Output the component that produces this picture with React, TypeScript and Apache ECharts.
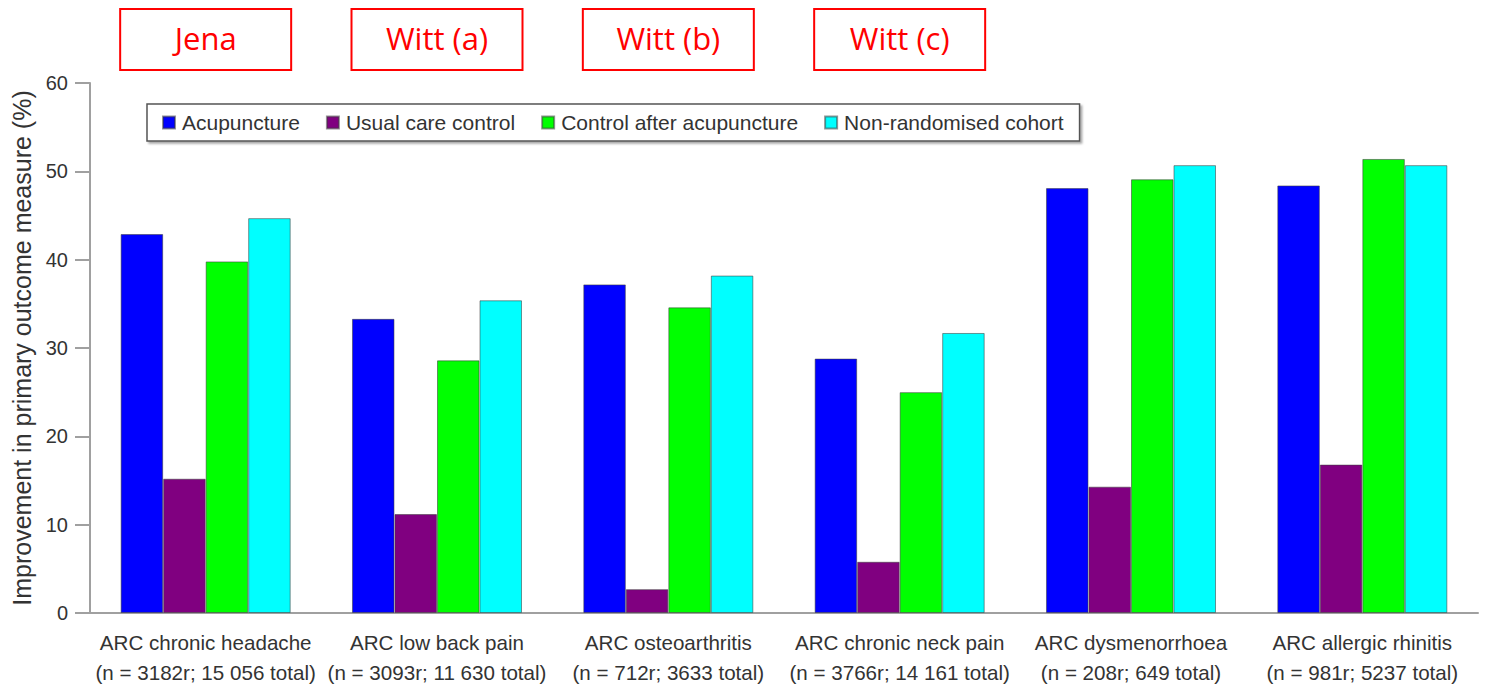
import React, { useEffect, useRef } from "react";
import * as echarts from "echarts";

const categories = [
  "ARC chronic headache\n(n = 3182r; 15 056 total)",
  "ARC low back pain\n(n = 3093r; 11 630 total)",
  "ARC osteoarthritis\n(n = 712r; 3633 total)",
  "ARC chronic neck pain\n(n = 3766r; 14 161 total)",
  "ARC dysmenorrhoea\n(n = 208r; 649 total)",
  "ARC allergic rhinitis\n(n = 981r; 5237 total)",
];

const acupuncture = [42.9, 33.3, 37.2, 28.8, 48.1, 48.4];
const usualCare = [15.2, 11.2, 2.7, 5.8, 14.3, 16.8];
const controlAfter = [39.8, 28.6, 34.6, 25.0, 49.1, 51.4];
const nonRandomised = [44.7, 35.4, 38.2, 31.7, 50.7, 50.7];

const seriesNames = [
  "Acupuncture",
  "Usual care control",
  "Control after acupuncture",
  "Non-randomised cohort",
];
const seriesColors = ["#0000ff", "#800080", "#00ff00", "#00ffff"];
const studyLabels = ["Jena", "Witt (a)", "Witt (b)", "Witt (c)"];

const FONT = "Liberation Sans, Arial, sans-serif";

export default function App() {
  const ref = useRef<HTMLDivElement>(null);

  useEffect(() => {
    if (!ref.current) return;
    const chart = echarts.init(ref.current, undefined, { renderer: "svg" });
    const data = [acupuncture, usualCare, controlAfter, nonRandomised];
    chart.setOption({
      animation: false,
      backgroundColor: "#ffffff",
      textStyle: { fontFamily: FONT },
      grid: { left: 90, right: 8, top: 83, bottom: 70, containLabel: false },
      legend: {
        left: 147,
        top: 104,
        padding: [8, 16, 8, 15],
        itemWidth: 12,
        itemHeight: 12,
        itemGap: 26,
        icon: "rect",
        backgroundColor: "#ffffff",
        borderColor: "#555555",
        borderWidth: 1.5,
        shadowColor: "rgba(0,0,0,0.35)",
        shadowBlur: 2,
        shadowOffsetX: 2,
        shadowOffsetY: 2,
        textStyle: { fontSize: 21, color: "#333333", fontFamily: FONT, padding: [0, 0, 0, 2] },
        data: seriesNames,
      },
      xAxis: {
        type: "category",
        data: categories,
        axisLine: { lineStyle: { color: "#a0a0a0", width: 2 } },
        axisTick: { length: 13, lineStyle: { color: "#a0a0a0", width: 2 } },
        axisLabel: {
          interval: 0,
          margin: 14,
          fontSize: 20.6,
          lineHeight: 30,
          color: "#333333",
          fontFamily: FONT,
        },
      },
      yAxis: {
        type: "value",
        min: 0,
        max: 60,
        interval: 10,
        name: "Improvement in primary outcome measure (%)",
        nameLocation: "middle",
        nameGap: 56,
        nameTextStyle: { fontSize: 25, color: "#333333", fontFamily: FONT },
        splitLine: { show: false },
        axisLine: { show: true, lineStyle: { color: "#a0a0a0", width: 2 } },
        axisTick: { show: true, length: 15, lineStyle: { color: "#a0a0a0", width: 2 } },
        axisLabel: { margin: 22, fontSize: 20, color: "#333333", fontFamily: FONT },
      },
      series: seriesNames.map((name, i) => ({
        name,
        type: "bar",
        data: data[i],
        barGap: "0%",
        barCategoryGap: "26.5%",
        itemStyle: {
          color: seriesColors[i],
          borderColor: "rgba(60,60,60,0.55)",
          borderWidth: 1,
        },
      })),
    });

    const graphics: any[] = [];
    studyLabels.forEach((label, i) => {
      const cx = chart.convertToPixel({ xAxisIndex: 0 }, categories[i]) as number;
      graphics.push({
        type: "rect",
        shape: { x: cx - 85.5, y: 9, width: 171, height: 61 },
        style: { fill: "#ffffff", stroke: "#ff0000", lineWidth: 2 },
      });
      graphics.push({
        type: "text",
        x: cx,
        y: 38,
        style: {
          text: label,
          fill: "#ff0000",
          font: '31px "Open Sans", sans-serif',
          textAlign: "center",
          textVerticalAlign: "middle",
        },
      });
    });
    chart.setOption({ graphic: graphics });

    return () => chart.dispose();
  }, []);

  return (
    <div
      ref={ref}
      style={{ position: "fixed", left: 0, top: 0, width: 1486, height: 687 }}
    />
  );
}
